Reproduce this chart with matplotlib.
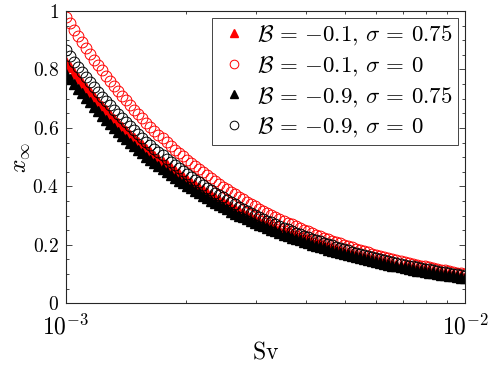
import numpy as np
import matplotlib
matplotlib.use("Agg")
import matplotlib.pyplot as plt
from matplotlib.ticker import FixedLocator, MultipleLocator, FuncFormatter, NullFormatter

plt.rcParams['mathtext.fontset'] = 'cm'
plt.rcParams['font.family'] = 'serif'
plt.rcParams['font.serif'] = ['DejaVu Serif']

# Sv sampled on a log grid from 1e-3 to 1e-2
sv = np.logspace(-3, -2, 100)

labels = [r'$\mathcal{B}\,=\,{-0.1},\,\sigma\,=\,0.75$',
          r'$\mathcal{B}\,=\,{-0.1},\,\sigma\,=\,0$',
          r'$\mathcal{B}\,=\,{-0.9},\,\sigma\,=\,0.75$',
          r'$\mathcal{B}\,=\,{-0.9},\,\sigma\,=\,0$']

# B=-0.1, sigma=0.75 (red triangles)
x_red_tri = [
    0.825, 0.807, 0.789, 0.772, 0.754, 0.738, 0.722, 0.706, 0.690, 0.675,
    0.660, 0.645, 0.631, 0.617, 0.603, 0.590, 0.577, 0.564, 0.552, 0.540,
    0.528, 0.516, 0.505, 0.494, 0.483, 0.472, 0.462, 0.451, 0.441, 0.432,
    0.422, 0.413, 0.404, 0.395, 0.386, 0.377, 0.369, 0.361, 0.353, 0.345,
    0.338, 0.330, 0.323, 0.316, 0.309, 0.302, 0.295, 0.289, 0.282, 0.276,
    0.270, 0.264, 0.258, 0.252, 0.247, 0.241, 0.236, 0.231, 0.226, 0.221,
    0.216, 0.211, 0.206, 0.202, 0.197, 0.193, 0.189, 0.185, 0.180, 0.176,
    0.173, 0.169, 0.165, 0.161, 0.158, 0.154, 0.151, 0.148, 0.144, 0.141,
    0.138, 0.135, 0.132, 0.129, 0.126, 0.123, 0.121, 0.118, 0.115, 0.113,
    0.110, 0.108, 0.105, 0.103, 0.101, 0.099, 0.096, 0.094, 0.092, 0.090]

# B=-0.1, sigma=0 (red circles)
x_red_circ = [
    0.980, 0.958, 0.936, 0.915, 0.894, 0.873, 0.854, 0.834, 0.815, 0.797,
    0.778, 0.761, 0.743, 0.726, 0.710, 0.694, 0.678, 0.663, 0.647, 0.633,
    0.618, 0.604, 0.591, 0.577, 0.564, 0.551, 0.539, 0.526, 0.514, 0.503,
    0.491, 0.480, 0.469, 0.458, 0.448, 0.438, 0.428, 0.418, 0.409, 0.399,
    0.390, 0.381, 0.373, 0.364, 0.356, 0.348, 0.340, 0.332, 0.324, 0.317,
    0.310, 0.303, 0.296, 0.289, 0.283, 0.276, 0.270, 0.264, 0.258, 0.252,
    0.246, 0.241, 0.235, 0.230, 0.225, 0.219, 0.214, 0.210, 0.205, 0.200,
    0.196, 0.191, 0.187, 0.182, 0.178, 0.174, 0.170, 0.166, 0.163, 0.159,
    0.155, 0.152, 0.148, 0.145, 0.142, 0.138, 0.135, 0.132, 0.129, 0.126,
    0.123, 0.121, 0.118, 0.115, 0.113, 0.110, 0.107, 0.105, 0.103, 0.100]

# B=-0.9, sigma=0.75 (black triangles)
x_black_tri = [
    0.785, 0.768, 0.751, 0.734, 0.718, 0.702, 0.687, 0.671, 0.657, 0.642,
    0.628, 0.614, 0.600, 0.587, 0.574, 0.561, 0.549, 0.537, 0.525, 0.514,
    0.502, 0.491, 0.480, 0.470, 0.459, 0.449, 0.439, 0.429, 0.420, 0.411,
    0.402, 0.393, 0.384, 0.376, 0.367, 0.359, 0.351, 0.343, 0.336, 0.328,
    0.321, 0.314, 0.307, 0.300, 0.294, 0.287, 0.281, 0.275, 0.269, 0.263,
    0.257, 0.251, 0.246, 0.240, 0.235, 0.230, 0.225, 0.220, 0.215, 0.210,
    0.205, 0.201, 0.196, 0.192, 0.188, 0.184, 0.180, 0.176, 0.172, 0.168,
    0.164, 0.161, 0.157, 0.154, 0.150, 0.147, 0.144, 0.140, 0.137, 0.134,
    0.131, 0.128, 0.126, 0.123, 0.120, 0.117, 0.115, 0.112, 0.110, 0.107,
    0.105, 0.103, 0.100, 0.098, 0.096, 0.094, 0.092, 0.090, 0.088, 0.086]

# B=-0.9, sigma=0 (black circles)
x_black_circ = [
    0.865, 0.846, 0.827, 0.809, 0.791, 0.774, 0.757, 0.740, 0.723, 0.707,
    0.692, 0.677, 0.662, 0.647, 0.633, 0.619, 0.605, 0.592, 0.579, 0.566,
    0.553, 0.541, 0.529, 0.517, 0.506, 0.495, 0.484, 0.473, 0.463, 0.453,
    0.443, 0.433, 0.423, 0.414, 0.405, 0.396, 0.387, 0.378, 0.370, 0.362,
    0.354, 0.346, 0.338, 0.331, 0.324, 0.316, 0.309, 0.303, 0.296, 0.289,
    0.283, 0.277, 0.271, 0.265, 0.259, 0.253, 0.247, 0.242, 0.237, 0.231,
    0.226, 0.221, 0.216, 0.212, 0.207, 0.202, 0.198, 0.194, 0.189, 0.185,
    0.181, 0.177, 0.173, 0.169, 0.165, 0.162, 0.158, 0.155, 0.151, 0.148,
    0.145, 0.142, 0.138, 0.135, 0.132, 0.129, 0.126, 0.124, 0.121, 0.118,
    0.116, 0.113, 0.111, 0.108, 0.106, 0.103, 0.101, 0.099, 0.097, 0.095]

fig = plt.figure(figsize=(4.88, 3.67), dpi=100)
ax = fig.add_axes([0.1346, 0.1736, 0.8184, 0.7964])

ax.plot(sv, x_red_tri, linestyle='none', marker='^', ms=6.5, color='red', mec='red',
        label=labels[0])
ax.plot(sv, x_red_circ, linestyle='none', marker='o', ms=7.8, mfc='none', mec='red', mew=0.7,
        label=labels[1])
ax.plot(sv, x_black_tri, linestyle='none', marker='^', ms=6.5, color='black', mec='black',
        label=labels[2])
ax.plot(sv, x_black_circ, linestyle='none', marker='o', ms=7.8, mfc='none', mec='black', mew=0.7,
        label=labels[3])

ax.set_xscale('log')
ax.set_xlim(1e-3, 1e-2)
ax.set_ylim(0, 1)

ax.xaxis.set_major_locator(FixedLocator([1e-3, 1e-2]))
ax.xaxis.set_minor_locator(FixedLocator([k * 1e-3 for k in range(2, 10)]))
ax.xaxis.set_major_formatter(FuncFormatter(lambda v, p: r'$10^{%d}$' % round(np.log10(v))))
ax.xaxis.set_minor_formatter(NullFormatter())
ax.yaxis.set_major_locator(MultipleLocator(0.2))
ax.yaxis.set_minor_locator(MultipleLocator(0.05))
ax.yaxis.set_major_formatter(FuncFormatter(lambda v, p: r'$%g$' % round(v, 2)))

edge = '#262626'
for s in ax.spines.values():
    s.set_color(edge)
    s.set_linewidth(0.8)
ax.tick_params(which='both', direction='in', top=True, right=True, colors=edge,
               labelcolor='black', width=0.6)
ax.tick_params(axis='y', labelsize=14, pad=5)
ax.tick_params(axis='x', labelsize=17, pad=8)
ax.tick_params(which='major', length=4)
ax.tick_params(which='minor', length=2.5)

ax.set_xlabel(r'$\mathrm{Sv}$', fontsize=17, labelpad=1)
ax.set_ylabel(r'$x_\infty$', fontsize=17, labelpad=0)

leg = ax.legend(loc='upper right', fontsize=16.5, frameon=True, fancybox=False,
                edgecolor=edge, framealpha=1, handletextpad=0.3, borderpad=0.25,
                labelspacing=0.3, handlelength=1.4, borderaxespad=0.3, markerscale=0.8)
leg.get_frame().set_linewidth(0.6)

fig.savefig('out.png', dpi=100)
